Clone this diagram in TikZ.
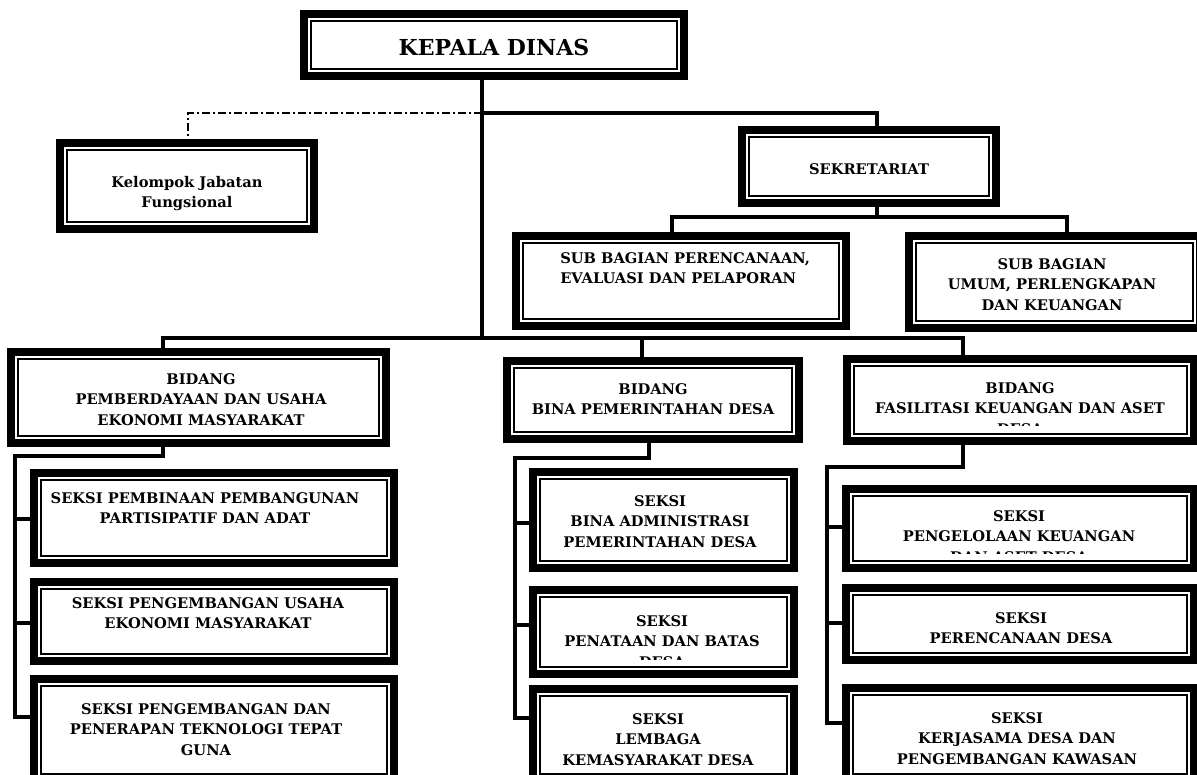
\documentclass[tikz,border=0pt]{standalone}
\usepackage{fontspec}
\setmainfont{DejaVu Serif}
\usetikzlibrary{calc}
\tikzset{
  obox/.style={draw=black, fill=white, line width=6pt, inner sep=0pt, outer sep=0pt,
    path picture={\draw[line width=1.2pt] ([shift={(5.2pt,-5.2pt)}]path picture bounding box.north west) rectangle ([shift={(-5.2pt,5.2pt)}]path picture bounding box.south east);}},
  otxt/.style={font=\bfseries\fontsize{11}{15.4}\selectfont, align=center, inner sep=0pt, anchor=north},
  conn/.style={line width=2.6pt, line join=miter},
  dashdot/.style={line width=1.5pt, dash pattern=on 6pt off 2.25pt on 1.5pt off 2.25pt}
}
\newcommand{\OrgBox}[5]{%
  \pgfmathsetmacro\orgbw{(#4-#2-8)*0.75}%
  \pgfmathsetmacro\orgbh{(#5-#3-8)*0.75}%
  \node[obox, minimum width=\orgbw pt, minimum height=\orgbh pt] (#1) at ({(#2+#4)/2},{(#3+#5)/2}) {};%
}
\begin{document}
\begin{tikzpicture}[x=0.75pt, y=-0.75pt]
\useasboundingbox (0,0) rectangle (1197,775);
\clip (0,0) rectangle (1197,775);
\fill[white] (0,0) rectangle (1197,775);

% ---------- boxes ----------
\OrgBox{kepala}{300}{10}{688}{80}
\OrgBox{kelompok}{56}{139}{318}{233}
\OrgBox{sekr}{738}{126}{1000}{207}
\OrgBox{subp}{512}{232}{850}{330}
\OrgBox{subu}{905}{232}{1204}{332}
\OrgBox{bid1}{7}{348}{390}{447}
\OrgBox{bid2}{503}{357}{803}{443}
\OrgBox{bid3}{843}{355}{1198}{445}
\OrgBox{ls1}{30}{469}{398}{567}
\OrgBox{ls2}{30}{578}{398}{665}
\OrgBox{ls3}{30}{675}{398}{785}
\OrgBox{ms1}{529}{468}{798}{572}
\OrgBox{ms2}{529}{586}{798}{678}
\OrgBox{ms3}{529}{685}{798}{785}
\OrgBox{rs1}{842}{485}{1198}{572}
\OrgBox{rs2}{842}{584}{1198}{664}
\OrgBox{rs3}{842}{684}{1198}{785}

% ---------- texts ----------
\node[otxt, font=\bfseries\fontsize{16.5}{19}\selectfont] (kepala-t) at (494,39) {KEPALA DINAS};
\node[otxt] (kelompok-t) at (187,176) {Kelompok Jabatan\\Fungsional};
\node[otxt] (sekr-t) at (869,163) {SEKRETARIAT};
\node[otxt, align=left, anchor=north west] (subp-t) at (560,252) {SUB BAGIAN PERENCANAAN,\\EVALUASI DAN PELAPORAN};
\node[otxt] (subu-t) at (1052,258) {SUB BAGIAN\\UMUM, PERLENGKAPAN\\DAN KEUANGAN};
\node[otxt] (bid1-t) at (201,373) {BIDANG\\PEMBERDAYAAN DAN USAHA\\EKONOMI MASYARAKAT};
\node[otxt] (bid2-t) at (653,383) {BIDANG\\BINA PEMERINTAHAN DESA};
\begin{scope}
  \clip (855,365) rectangle (1190,425);
  \node[otxt] (bid3-t) at (1020,382) {BIDANG\\FASILITASI KEUANGAN DAN ASET\\DESA};
\end{scope}
\node[otxt] (ls1-t) at (205,492) {SEKSI PEMBINAAN PEMBANGUNAN\\PARTISIPATIF DAN ADAT};
\node[otxt] (ls2-t) at (208,597) {SEKSI PENGEMBANGAN USAHA\\EKONOMI MASYARAKAT};
\node[otxt] (ls3-t) at (206,703) {SEKSI PENGEMBANGAN DAN\\PENERAPAN TEKNOLOGI TEPAT\\GUNA};
\node[otxt] (ms1-t) at (660,495) {SEKSI\\BINA ADMINISTRASI\\PEMERINTAHAN DESA};
\begin{scope}
  \clip (540,595) rectangle (790,659);
  \node[otxt] (ms2-t) at (662,615) {SEKSI\\PENATAAN DAN BATAS\\DESA};
\end{scope}
\node[otxt] (ms3-t) at (658,713) {SEKSI\\LEMBAGA\\KEMASYARAKAT DESA};
\begin{scope}
  \clip (852,495) rectangle (1188,553);
  \node[otxt] (rs1-t) at (1019,510) {SEKSI\\PENGELOLAAN KEUANGAN\\DAN ASET DESA};
\end{scope}
\node[otxt] (rs2-t) at (1021,612) {SEKSI\\PERENCANAAN DESA};
\node[otxt] (rs3-t) at (1017,712) {SEKSI\\KERJASAMA DESA DAN\\PENGEMBANGAN KAWASAN};

% ---------- connectors ----------
\coordinate (tA) at (482,113);
\coordinate (tB) at (482,338);
\coordinate (cS) at (877,113);
\coordinate (cK) at (188,113);
\draw[conn] (kepala.south -| tA) -- (tB);
\draw[conn] (tA) -- (cS) -- (cS |- sekr.north);
\draw[dashdot] (tA) -- (cK) -- (cK |- kelompok.north);

\coordinate (s1) at (877,217);
\coordinate (s2) at (672,217);
\coordinate (s3) at (1067,217);
\draw[conn] (sekr.south -| s1) -- (s1);
\draw[conn] (s2 |- subp.north) -- (s2) -- (s3) -- (s3 |- subu.north);

\coordinate (m1) at (163,338);
\coordinate (m2) at (642,338);
\coordinate (m3) at (963,338);
\draw[conn] (m1 |- bid1.north) -- (m1) -- (m3) -- (m3 |- bid3.north);
\draw[conn] (m2) -- (m2 |- bid2.north);

% left column
\coordinate (lT) at (163,456);
\coordinate (bL0) at (15,456);
\coordinate (bL1) at (15,519);
\coordinate (bL2) at (15,623);
\coordinate (bL3) at (15,717);
\draw[conn] (bid1.south -| lT) -- (lT) -- (bL0) -- (bL3) -- (bL3 -| ls3.west);
\draw[conn] (bL1) -- (bL1 -| ls1.west);
\draw[conn] (bL2) -- (bL2 -| ls2.west);

% middle column
\coordinate (mT) at (649,458);
\coordinate (bM0) at (515,458);
\coordinate (bM1) at (515,523);
\coordinate (bM2) at (515,625);
\coordinate (bM3) at (515,718);
\draw[conn] (bid2.south -| mT) -- (mT) -- (bM0) -- (bM3) -- (bM3 -| ms3.west);
\draw[conn] (bM1) -- (bM1 -| ms1.west);
\draw[conn] (bM2) -- (bM2 -| ms2.west);

% right column
\coordinate (rT) at (963,467);
\coordinate (bR0) at (827,467);
\coordinate (bR1) at (827,527);
\coordinate (bR2) at (827,623);
\coordinate (bR3) at (827,723);
\draw[conn] (bid3.south -| rT) -- (rT) -- (bR0) -- (bR3) -- (bR3 -| rs3.west);
\draw[conn] (bR1) -- (bR1 -| rs1.west);
\draw[conn] (bR2) -- (bR2 -| rs2.west);
\end{tikzpicture}
\end{document}
